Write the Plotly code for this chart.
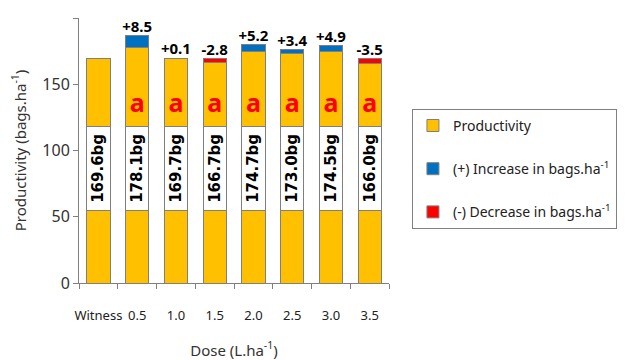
import plotly.graph_objects as go

categories = ["Witness", "0.5", "1.0", "1.5", "2.0", "2.5", "3.0", "3.5"]
productivity = [169.6, 178.1, 169.7, 166.7, 174.7, 173.0, 174.5, 166.0]
increase = [0, 8.5, 0.1, 0, 5.2, 3.4, 4.9, 0]
decrease = [0, 0, 0, 2.8, 0, 0, 0, 3.5]
change_labels = ["", "+8.5", "+0.1", "-2.8", "+5.2", "+3.4", "+4.9", "-3.5"]
value_labels = ["169.6bg", "178.1bg", "169.7bg", "166.7bg", "174.7bg", "173.0bg", "174.5bg", "166.0bg"]
letters = ["", "a", "a", "a", "a", "a", "a", "a"]

BAND_LOW, BAND_HIGH = 55, 118
LETTER_Y = 134

YELLOW = "#FFC000"
BLUE = "#0070C0"
RED = "#FF0000"
EDGE = dict(color="#7F7F7F", width=1)

base = [BAND_LOW] * len(categories)
band = [BAND_HIGH - BAND_LOW] * len(categories)
top = [p - BAND_HIGH for p in productivity]
totals = [p + i + d for p, i, d in zip(productivity, increase, decrease)]

fig = go.Figure()
fig.add_trace(go.Bar(x=categories, y=base, marker=dict(color=YELLOW, line=EDGE),
                     showlegend=False, legendgroup="p", hoverinfo="skip"))
fig.add_trace(go.Bar(x=categories, y=band, marker=dict(color="white", line=EDGE),
                     text=value_labels, textposition="inside", insidetextanchor="middle",
                     textangle=-90, constraintext="none",
                     textfont=dict(family="DejaVu Sans", size=15, color="black", weight="bold"),
                     showlegend=False, legendgroup="p", hoverinfo="skip"))
fig.add_trace(go.Bar(x=categories, y=top, marker=dict(color=YELLOW, line=EDGE),
                     name="Productivity", legendgroup="p"))
fig.add_trace(go.Bar(x=categories, y=increase, marker=dict(color=BLUE, line=EDGE),
                     name="(+) Increase in bags.ha<sup>-1</sup>", legendgroup="i"))
fig.add_trace(go.Bar(x=categories, y=decrease, marker=dict(color=RED, line=EDGE),
                     name="(-) Decrease in bags.ha<sup>-1</sup>", legendgroup="d"))
fig.add_trace(go.Scatter(x=categories, y=totals, mode="text", text=change_labels,
                         textposition="top center",
                         textfont=dict(family="Noto Sans", size=15, color="black", weight="bold"),
                         showlegend=False, cliponaxis=False, hoverinfo="skip"))
fig.add_trace(go.Scatter(x=categories, y=[LETTER_Y] * len(categories), mode="text", text=letters,
                         textfont=dict(family="Noto Sans", size=25, color=RED, weight="bold"),
                         showlegend=False, hoverinfo="skip"))

fig.update_layout(
    barmode="stack",
    bargap=0.4,
    width=626, height=360,
    margin=dict(l=71, r=245, t=10, b=85, autoexpand=False),
    paper_bgcolor="white", plot_bgcolor="white",
    font=dict(family="Noto Sans", size=13, color="#222"),
    legend=dict(x=1.074, y=0.657, xanchor="left", yanchor="top",
                bordercolor="#808080", borderwidth=1,
                traceorder="grouped", tracegroupgap=22,
                font=dict(size=14, color="#222"),
                entrywidth=230, itemwidth=30),
)
fig.update_yaxes(range=[0, 200], tickvals=[0, 50, 100, 150, 200],
                 showline=True, linecolor="#808080", linewidth=1,
                 ticks="outside", ticklen=5, tickcolor="#808080",
                 showgrid=False, zeroline=False,
                 tickfont=dict(size=16, color="#333"),
                 title=dict(text="Productivity (bags.ha<sup>-1</sup>)",
                            font=dict(size=15, color="#333"), standoff=12))
fig.update_xaxes(showline=True, linecolor="#808080", linewidth=1,
                 ticks="outside", ticklen=5, tickcolor="#808080", tickson="boundaries",
                 tickangle=0,
                 tickfont=dict(size=13, color="#222"), ticklabelstandoff=20,
                 title=dict(text="Dose (L.ha<sup>-1</sup>)", font=dict(size=15, color="#333"),
                            standoff=22))

fig.write_html("out.html")
